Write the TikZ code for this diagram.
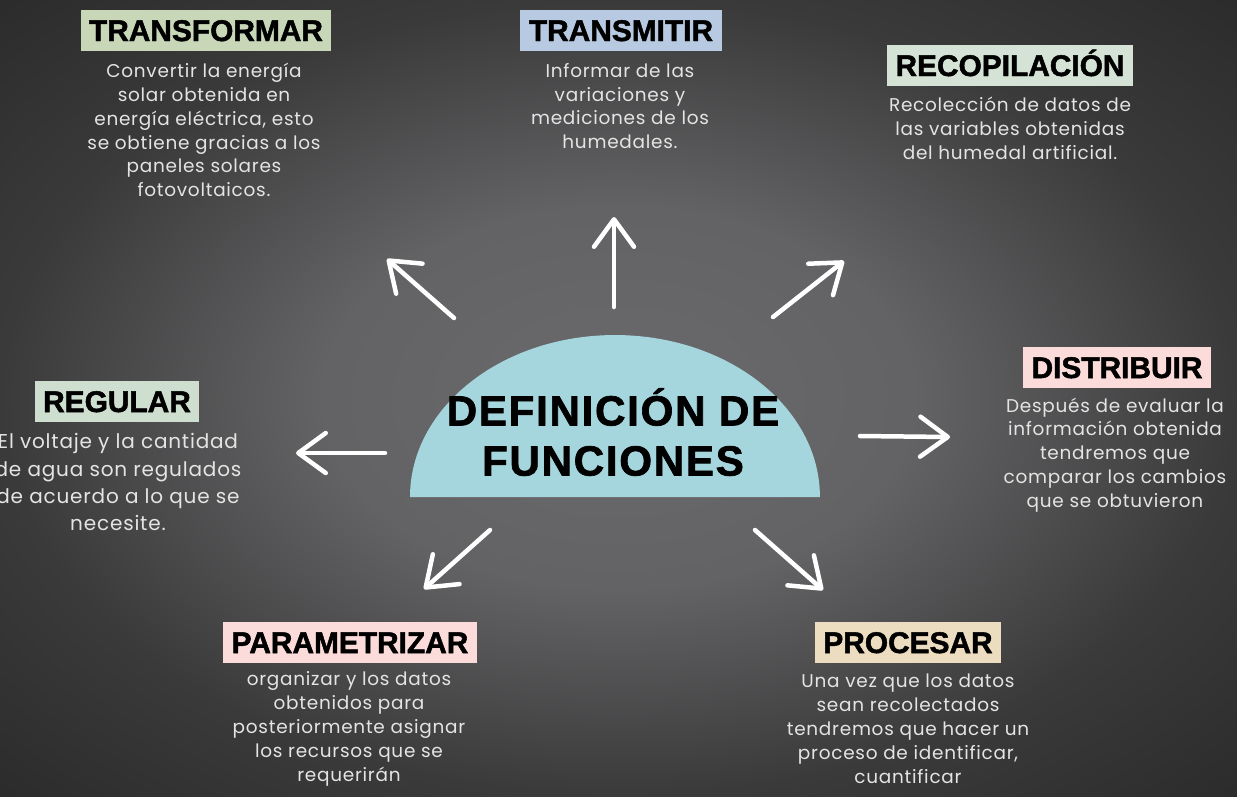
\documentclass[tikz,border=0pt]{standalone}
\usepackage{fontspec}
\setmainfont{Poppins}
\newfontfamily\titlefont{Liberation Sans}[FakeBold=1.6]
\usetikzlibrary{arrows.meta}
\definecolor{oscuro}{RGB}{28,28,28}
\definecolor{medio}{RGB}{58,58,59}
\definecolor{claro}{RGB}{106,106,108}
\definecolor{disco}{RGB}{166,214,221}
\definecolor{gristexto}{RGB}{228,228,228}
\definecolor{verde}{RGB}{199,215,183}
\definecolor{azul}{RGB}{184,202,226}
\definecolor{menta}{RGB}{212,227,213}
\definecolor{rosa}{RGB}{251,220,218}
\definecolor{salvia}{RGB}{206,223,207}
\definecolor{beige}{RGB}{236,220,192}
\pgfdeclareradialshading{fondoradial}{\pgfpoint{0bp}{0bp}}{color(0bp)=(claro); color(12bp)=(claro!85!medio); color(25bp)=(medio); color(40bp)=(oscuro!70!medio); color(50bp)=(oscuro)}
\begin{document}
\begin{tikzpicture}[x=0.02cm,y=-0.02cm,
    flecha/.style={draw=white,line width=0.09cm,line cap=round,-{Straight Barb[length=0.55cm,width=0.8cm,round]}},
    etiqueta/.style={fill=#1,text=black,font=\titlefont\bfseries\fontsize{17}{17}\selectfont,inner xsep=0.17cm,minimum height=0.82cm,text height=0.44cm,text depth=0pt},
    texto/.style={text=gristexto,align=center,inner sep=0pt,font=\fontsize{10.5}{13.6}\selectfont\addfontfeature{LetterSpace=4}}]
  % fondo
  \useasboundingbox (0,0) rectangle (1237,796);
  \shade[shading=fondoradial] (0,0) rectangle (1237,796);
  % centro
  \fill[disco] (410,497) arc[start angle=180,end angle=0,x radius=4.1cm,y radius=3.24cm] -- cycle;
  \node[align=center,font=\titlefont\bfseries\fontsize{24}{28.5}\selectfont\addfontfeature{LetterSpace=4}] (centro) at (613,432) {DEFINICIÓN DE\\FUNCIONES};
  % etiquetas
  \node[etiqueta=verde] (transformar) at (206,30) {TRANSFORMAR};
  \node[texto] (transformar-txt) at (204,130) {Convertir la energía\\solar obtenida en\\energía eléctrica, esto\\se obtiene gracias a los\\paneles solares\\fotovoltaicos.};
  \node[etiqueta=azul] (transmitir) at (621,30) {TRANSMITIR};
  \node[texto] (transmitir-txt) at (620,106) {Informar de las\\variaciones y\\mediciones de los\\humedales.};
  \node[etiqueta=menta] (recopilacion) at (1010,65) {RECOPILACIÓN};
  \node[texto] (recopilacion-txt) at (1010,128) {Recolección de datos de\\las variables obtenidas\\del humedal artificial.};
  \node[etiqueta=rosa] (distribuir) at (1117,367) {DISTRIBUIR};
  \node[texto] (distribuir-txt) at (1115,455) {Después de evaluar la\\información obtenida\\tendremos que\\comparar los cambios\\que se obtuvieron};
  \node[etiqueta=salvia] (regular) at (117,401) {REGULAR};
  \node[texto,font=\fontsize{11.4}{15.4}\selectfont\addfontfeature{LetterSpace=4}] (regular-txt) at (118,482) {El voltaje y la cantidad\\de agua son regulados\\de acuerdo a lo que se\\necesite.};
  \node[etiqueta=rosa] (parametrizar) at (350,642) {PARAMETRIZAR};
  \node[texto] (parametrizar-txt) at (349,729) {organizar y los datos\\obtenidos para\\posteriormente asignar\\los recursos que se\\requerirán};
  \node[etiqueta=beige] (procesar) at (908,642) {PROCESAR};
  \node[texto] (procesar-txt) at (908,729) {Una vez que los datos\\sean recolectados\\tendremos que hacer un\\proceso de identificar,\\cuantificar};
  % flechas
  \coordinate (a1) at (454,318); \coordinate (b1) at (387,259);
  \coordinate (a2) at (614,307); \coordinate (b2) at (614,217);
  \coordinate (a3) at (773,317); \coordinate (b3) at (844,261);
  \coordinate (a4) at (385,453); \coordinate (b4) at (296,453);
  \coordinate (a5) at (860,436); \coordinate (b5) at (950,437);
  \coordinate (a6) at (490,530); \coordinate (b6) at (424,589);
  \coordinate (a7) at (755,530); \coordinate (b7) at (823,590);
  \foreach \i in {1,...,7} \draw[flecha] (a\i) -- (b\i);
\end{tikzpicture}
\end{document}
